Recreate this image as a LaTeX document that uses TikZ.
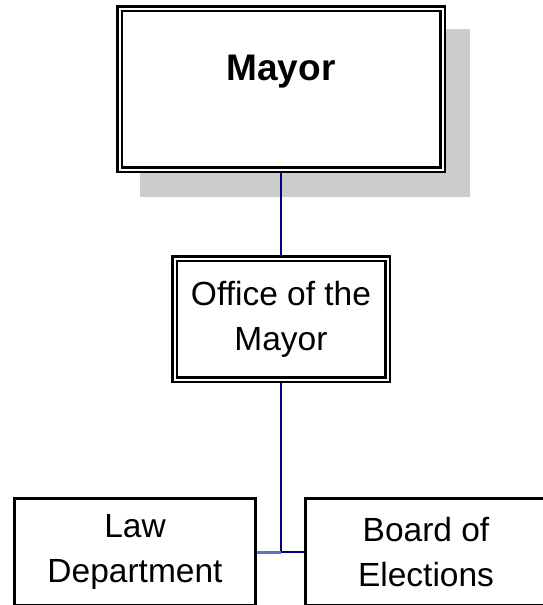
\documentclass[tikz,border=0pt]{standalone}
\usepackage{fontspec}
\setmainfont{Liberation Sans}
\usepackage{tikz}
\usetikzlibrary{calc}
\definecolor{shadowgray}{HTML}{CCCCCC}
\definecolor{linknavy}{HTML}{00008B}
\definecolor{linkblue}{HTML}{4A7CC4}

\begin{document}
\begin{tikzpicture}[x=1pt,y=1pt,
officebox/.style = {draw=black, line width=2.6pt, double=white, double distance=2pt,
  fill=white, align=center, inner sep=0pt, outer sep=3.6pt},
deptbox/.style = {draw=black, line width=3pt, fill=white, align=center,
  inner sep=0pt, outer sep=1.5pt, minimum width=241pt, minimum height=107pt},
bigtext/.style = {font={\fontsize{33.5pt}{45pt}\selectfont}},
link/.style = {line width=2pt, color=linknavy}
]
\useasboundingbox (0,0) rectangle (543,-605);

\coordinate (top) at (281,-89);
\pgfmathsetmacro{\drop}{24}
\fill [shadowgray] ($ (top) + (-165+\drop,84-\drop) $) rectangle ($ (top) + (165+\drop,-84-\drop) $);

\node [officebox, minimum width=323pt, minimum height=161pt,
  font={\fontsize{37pt}{44pt}\selectfont\bfseries},
  text height=26.5pt, text depth=44.5pt] (mayor) at (top) {Mayor};
\node [officebox, bigtext, minimum width=213pt, minimum height=121pt] (office) at (281,-319) {Office of the\\Mayor};
\node [deptbox, bigtext] (law) at (135,-552) {Law\\Department};
\node [deptbox, bigtext] (board) at (426,-552) {Board of\\Elections};

\coordinate (join) at (office.south |- law.east);
\draw [link] (mayor.south) -- (office.north);
\draw [link] (office.south) -- (join) -- (board.west);
\draw [link, color=linkblue, line width=3pt] (law.east) -- (join);

\end{tikzpicture}
\end{document}
